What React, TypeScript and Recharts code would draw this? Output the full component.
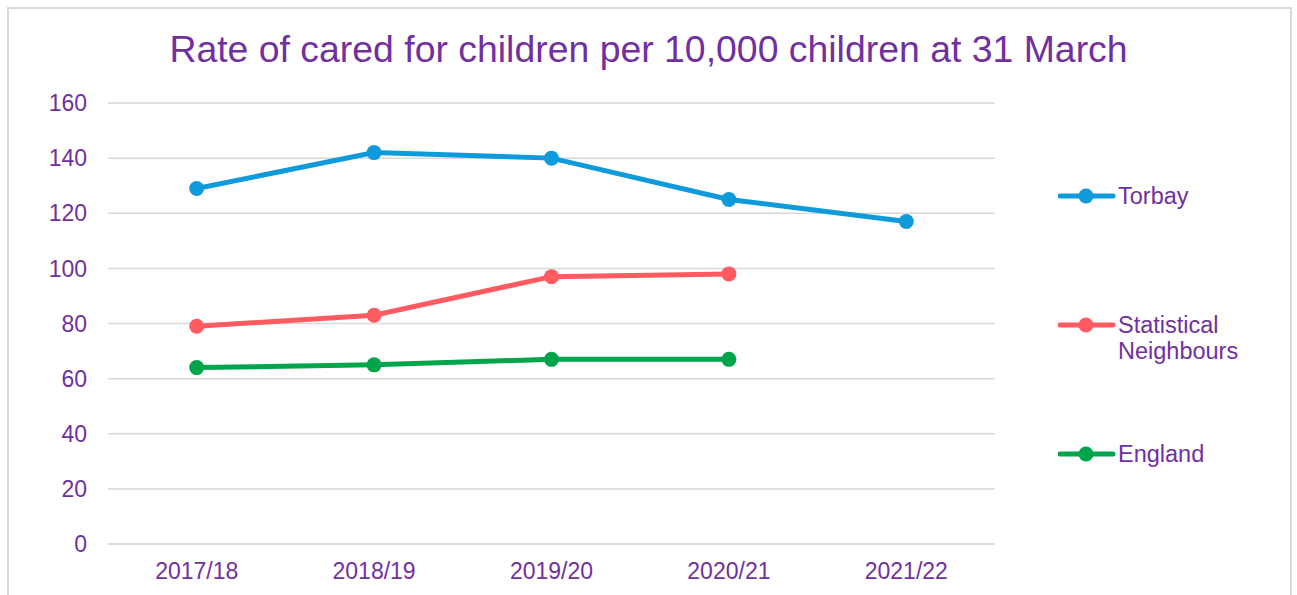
import { LineChart, Line, XAxis, YAxis, CartesianGrid } from "recharts";

const years = ["2017/18", "2018/19", "2019/20", "2020/21", "2021/22"];
const torbay = [129, 142, 140, 125, 117];
const statNeighbours = [79, 83, 97, 98, null];
const england = [64, 65, 67, 67, null];
const yTicks = [0, 20, 40, 60, 80, 100, 120, 140, 160];

const PURPLE = "#7030A0";
const FONT = "'Liberation Sans', Arial, sans-serif";

const series = [
  { key: "torbay", name: "Torbay", color: "#0E9ADB" },
  { key: "sn", name: "Statistical\nNeighbours", color: "#FF5B60" },
  { key: "england", name: "England", color: "#00A44A" },
];

const data = years.map((year, i) => ({
  year,
  torbay: torbay[i],
  sn: statNeighbours[i],
  england: england[i],
}));

function LegendBox() {
  return (
    <div style={{ fontFamily: FONT, fontSize: 23.5, color: PURPLE }}>
      {series.map((s) => (
        <div key={s.key} style={{ display: "flex", alignItems: "flex-start", height: 129 }}>
          <svg width={60} height={26} style={{ flex: "none" }}>
            <line x1={2} y1={13} x2={55} y2={13} stroke={s.color} strokeWidth={5} strokeLinecap="round" />
            <circle cx={28} cy={13} r={7.5} fill={s.color} />
          </svg>
          <div style={{ whiteSpace: "pre", lineHeight: "26px", marginTop: 0 }}>{s.name}</div>
        </div>
      ))}
    </div>
  );
}

export default function App() {
  return (
    <div style={{ position: "absolute", left: 0, top: 0, width: 1297, height: 595, overflow: "hidden", background: "#fff" }}>
      <div
        style={{
          position: "absolute",
          left: 7,
          top: 7,
          width: 1281,
          height: 640,
          border: "2px solid #d9d9d9",
        }}
      />
      <div
        style={{
          position: "absolute",
          left: 0,
          top: 28,
          width: 1297,
          textAlign: "center",
          fontFamily: FONT,
          fontSize: 37.4,
          color: PURPLE,
          lineHeight: "42px",
        }}
      >
        Rate of cared for children per 10,000 children at 31 March
      </div>
      <div style={{ position: "absolute", left: 0, top: 0 }}>
        <LineChart
          width={1297}
          height={595}
          data={data}
          margin={{ top: 103, right: 302, bottom: 0, left: 0 }}
          style={{ fontFamily: FONT }}
        >
          <CartesianGrid horizontal vertical={false} stroke="#d9d9d9" strokeWidth={1.5} />
          <XAxis
            dataKey="year"
            height={51}
            padding={{ left: 88.7, right: 88.7 }}
            axisLine={{ stroke: "#d9d9d9", strokeWidth: 1.5 }}
            tickLine={false}
            tick={{ fill: PURPLE, fontSize: 23 }}
            tickMargin={13}
          />
          <YAxis
            width={108}
            domain={[0, 160]}
            ticks={yTicks}
            axisLine={false}
            tickLine={false}
            tick={{ fill: PURPLE, fontSize: 23 }}
            tickMargin={15}
          />
          {series.map((s) => (
            <Line
              key={s.key}
              dataKey={s.key}
              name={s.name}
              stroke={s.color}
              strokeWidth={5}
              dot={{ r: 7.5, fill: s.color, stroke: "none" }}
              activeDot={false}
              isAnimationActive={false}
            />
          ))}
        </LineChart>
      </div>
      <div style={{ position: "absolute", left: 1058, top: 183, width: 230 }}>
        <LegendBox />
      </div>
    </div>
  );
}
